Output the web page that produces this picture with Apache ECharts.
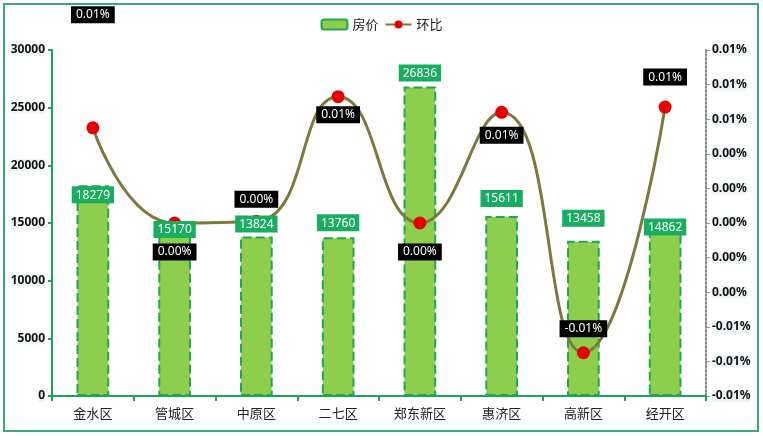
<!DOCTYPE html>
<html>
<head>
    <meta charset="utf-8">
    <title>房价 环比</title>
    <script src="https://cdn.jsdelivr.net/npm/echarts@6/dist/echarts.min.js"></script>
    <style>
        html, body { margin: 0; padding: 0; background: #fff; }
        #main { width: 763px; height: 436px; }
    </style>
</head>
<body>
<div id="main"></div>
<script type="text/javascript">
    // 数据
    var categories = ['金水区', '管城区', '中原区', '二七区', '郑东新区', '惠济区', '高新区', '经开区'];
    var prices = [18279, 15170, 13824, 13760, 26836, 15611, 13458, 14862];
    // 环比 (单位: %)
    var ratios = [0.0055, 0.0000, 0.0001, 0.0073, 0.0000, 0.0064, -0.0075, 0.0067];
    var rightTicks = { min: -0.01, max: 0.01, step: 0.002 };

    // 标签偏移（仿照原图的标签摆放）
    var barLabelDy = [18, 17, -4, -6, -5, -9, -14, 11];
    var lineLabelDy = [-113, 29, -22, 18, 29, 23, -24, -30];

    function pct(v) {
        var s = v.toFixed(2);
        if (Math.round(v * 100) === 0) s = '0.00';
        return s + '%';
    }

    var myChart = echarts.init(document.getElementById('main'));

    var barLabel = {
        show: true,
        position: 'top',
        distance: 0,
        color: '#fff',
        fontSize: 12,
        fontFamily: 'Noto Sans',
        backgroundColor: '#19ad60',
        padding: [3, 4, 2, 4]
    };

    var option = {
        backgroundColor: '#fff',
        animation: false,
        graphic: [{
            type: 'rect',
            shape: { x: 4, y: 4, width: 754, height: 427 },
            style: { fill: 'none', stroke: '#3aa877', lineWidth: 2 },
            z: -1
        }],
        legend: {
            top: 13,
            left: 'center',
            itemGap: 6,
            itemWidth: 26,
            itemHeight: 10,
            textStyle: { fontSize: 13, color: '#222', fontFamily: 'Noto Sans CJK SC' },
            data: ['房价', '环比']
        },
        grid: { left: 52, right: 57, top: 50, bottom: 40, containLabel: false },
        xAxis: {
            type: 'category',
            data: categories,
            axisLine: { lineStyle: { color: '#1fa35a', width: 2 } },
            axisTick: { show: true, length: 5, lineStyle: { color: '#1fa35a', width: 2 } },
            axisLabel: { color: '#222', fontSize: 13, margin: 11, fontFamily: 'Noto Sans CJK SC' }
        },
        yAxis: [{
            type: 'value',
            min: 0,
            max: 30000,
            interval: 5000,
            splitLine: { show: false },
            axisLine: { show: true, lineStyle: { color: '#1fa35a', width: 2 } },
            axisTick: { show: true, length: 4, lineStyle: { color: '#1fa35a', width: 2 } },
            axisLabel: {
                color: '#111', fontSize: 12, fontWeight: 'bold', margin: 7,
                fontFamily: 'Noto Sans', backgroundColor: 'rgba(225,236,238,0.5)',
                formatter: function (v) { return String(v); }
            }
        }, {
            type: 'value',
            min: rightTicks.min,
            max: rightTicks.max,
            interval: rightTicks.step,
            splitLine: { show: false },
            axisLine: { show: true, lineStyle: { color: '#888', width: 2, type: 'dotted' } },
            axisTick: { show: true, length: 4, lineStyle: { color: '#999', width: 1 } },
            axisLabel: {
                color: '#111', fontSize: 12, fontWeight: 'bold', margin: 6,
                fontFamily: 'Noto Sans', backgroundColor: 'rgba(225,236,238,0.6)',
                formatter: function (v) { return pct(v); }
            }
        }],
        series: [{
            name: '房价',
            type: 'bar',
            barWidth: '40%',
            data: prices,
            itemStyle: {
                color: '#8dcf4c',
                borderColor: '#21a655',
                borderWidth: 2,
                borderType: [9, 4]
            },
            z: 2
        }, {
            name: '环比',
            type: 'line',
            yAxisIndex: 1,
            smooth: true,
            symbol: 'circle',
            symbolSize: 13,
            data: ratios.map(function (v, i) {
                return { value: v, label: { offset: [0, lineLabelDy[i]] } };
            }),
            lineStyle: { color: '#7b7a3c', width: 3 },
            itemStyle: { color: '#e60000' },
            label: {
                show: true,
                position: 'inside',
                color: '#fff',
                fontSize: 12,
                fontFamily: 'Noto Sans',
                backgroundColor: '#000',
                padding: [3, 5, 2, 5],
                formatter: function (p) { return pct(p.value); }
            },
            z: 3
        }, {
            // 透明柱，仅用于把房价数值标签画在折线之上
            name: '房价标签',
            type: 'bar',
            barWidth: '40%',
            barGap: '-100%',
            silent: true,
            data: prices.map(function (v, i) {
                return { value: v, label: { offset: [0, barLabelDy[i]] } };
            }),
            itemStyle: { color: 'rgba(0,0,0,0)' },
            label: barLabel,
            z: 4
        }]
    };

    myChart.setOption(option);
</script>
</body>
</html>
